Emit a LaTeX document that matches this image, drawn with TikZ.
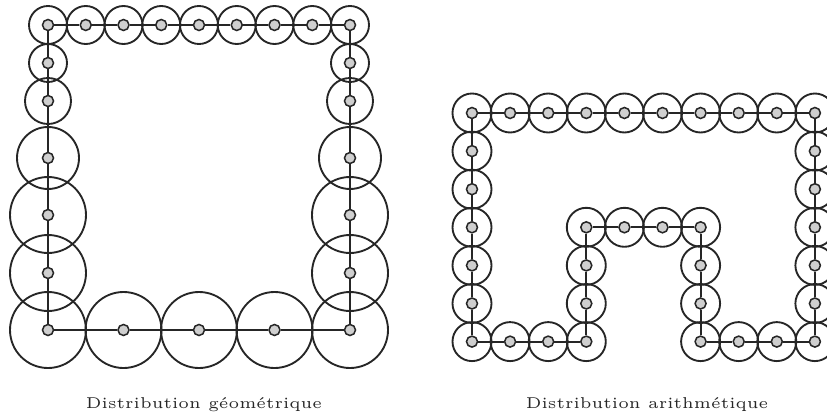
\documentclass[tikz,border=0pt]{standalone}
\usepackage{xcolor}
\usepackage{tikz}
\usetikzlibrary{positioning}
\definecolor{ring-dark}{HTML}{262626}
\definecolor{dot-gray}{HTML}{CFCFCF}

\begin{document}
\begin{tikzpicture}[
    x=0.03cm, y=-0.03cm,
    ring/.style={circle, draw=ring-dark, line width=1.6pt, inner sep=0, minimum size=#1*0.06cm},
    dot/.style={circle, draw=ring-dark, fill=dot-gray, line width=1.3pt, inner sep=0, minimum size=0.33cm},
    link/.style={ring-dark, line width=1.6pt},
    lbl/.style={font=\fontsize{5}{6}\selectfont, text=ring-dark, scale=2.68, transform shape, anchor=base},
]
    \useasboundingbox (0,0) rectangle (827,420);

    % Distribution geometrique: rings grow toward the bottom
    \foreach \x/\y/\r [count=\k] in {48/25/19, 85.75/25/19, 123.5/25/19, 161.25/25/19, 199/25/19,
            236.75/25/19, 274.5/25/19, 312.25/25/19, 350/25/19, 350/63/19, 350/101/23, 350/158/31,
            350/215/38, 350/273/38, 350/330/38, 274.5/330/38, 199/330/38, 123.5/330/38, 48/330/38,
            48/273/38, 48/215/38, 48/158/31, 48/101/23, 48/63/19} {
        \node[ring=\r] (g\k-o) at (\x, \y) {};
        \node[dot] (g\k) at (g\k-o.center) {};
    }
    \foreach \i [evaluate=\i as \j using {int(mod(\i,24)+1)}] in {1,...,24}
        \draw[link] (g\i) -- (g\j);

    % Distribution arithmetique: equal rings on a grid
    \foreach \i/\j [count=\k] in {0/0, 1/0, 2/0, 3/0, 4/0, 5/0, 6/0, 7/0, 8/0, 9/0,
            9/1, 9/2, 9/3, 9/4, 9/5, 9/6, 8/6, 7/6, 6/6, 6/5, 6/4, 6/3, 5/3, 4/3, 3/3,
            3/4, 3/5, 3/6, 2/6, 1/6, 0/6, 0/5, 0/4, 0/3, 0/2, 0/1} {
        \node[ring=19.5] (a\k-o) at ({472+38.1*\i}, {113+38.1*\j}) {};
        \node[dot] (a\k) at (a\k-o.center) {};
    }
    \foreach \i [evaluate=\i as \j using {int(mod(\i,36)+1)}] in {1,...,36}
        \draw[link] (a\i) -- (a\j);

    % Captions
    \node[lbl] (geo) at (204, 408) {Distribution géométrique};
    \node[lbl] (arith) at (647, 408) {Distribution arithmétique};

\end{tikzpicture}
\end{document}
